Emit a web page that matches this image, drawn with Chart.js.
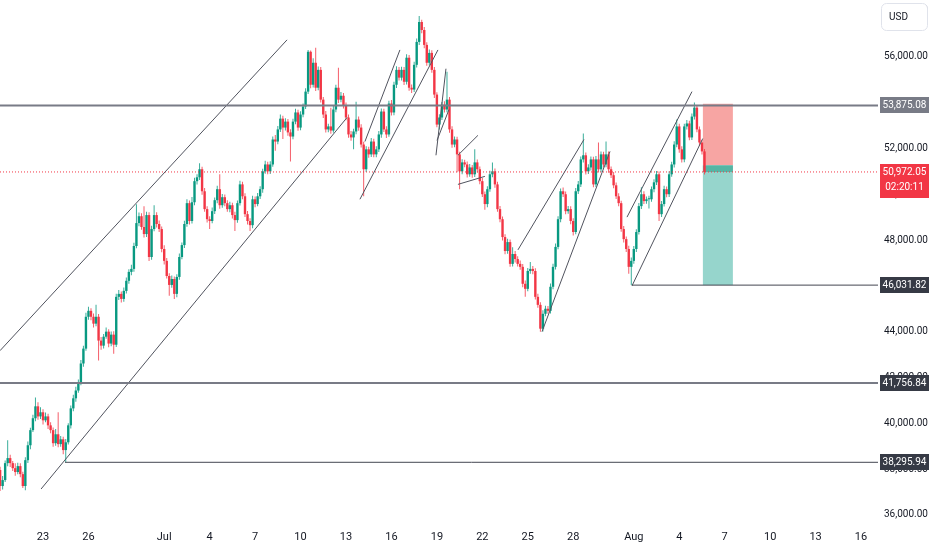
<!DOCTYPE html>
<html>
<head>
<meta charset="utf-8">
<script src="https://cdn.jsdelivr.net/npm/chart.js@4.4.1/dist/chart.umd.min.js"></script>
<style>
    html, body { margin: 0; padding: 0; background: #ffffff; }
    #wrap { width: 932px; height: 550px; }
</style>
</head>
<body>
<div id="wrap"><canvas id="chart" width="932" height="550"></canvas></div>
<script>
// 4h candles, x values are days counted from Jun 23 00:00
var firstCandleDay = -2 - 20 / 24;
var candleStep = 4 / 24;
var firstOpen = 37960;

var closes = [
    37260, 37520, 38260, 38480, 38260, 38040, 37870, 38130, 37780, 37260,
    38390, 39040, 39700, 40220, 40740, 40300, 40480, 40130, 40300, 39910,
    39700, 39130, 39520, 39090, 39300, 38830, 39170, 39910, 40650, 41090,
    41430, 41780, 42610, 43260, 44650, 44910, 44650, 44350, 44650, 43610,
    43390, 43780, 44000, 43480, 43870, 43430, 45520, 45650, 45430, 45780,
    46220, 46610, 46740, 47740, 48740, 49040, 48570, 48260, 49090, 47260,
    48480, 49090, 48700, 48480, 47610, 47090, 46430, 46040, 46300, 45650,
    46390, 47260, 47780, 48700, 49610, 48830, 49650, 50570, 50740, 51090,
    50130, 49350, 48910, 48830, 49260, 49740, 50220, 49520, 49870, 49610,
    49350, 49520, 49090, 48870, 49610, 50430, 49910, 49130, 48830, 48650,
    49780, 49570, 49910, 50220, 51000, 51300, 51000, 51300, 52390, 52300,
    52830, 53300, 52910, 53170, 52700, 52520, 53170, 53570, 52910, 53480,
    53830, 54480, 56220, 54780, 55740, 54650, 55430, 54130, 53480, 52830,
    52960, 52780, 53700, 54650, 54130, 54300, 53870, 53350, 52610, 52480,
    52740, 53260, 52910, 52170, 51090, 51960, 51740, 52300, 51740, 51960,
    52610, 53610, 52830, 52610, 53960, 53570, 54780, 55430, 55090, 55430,
    54910, 55960, 54650, 54570, 55650, 56650, 57520, 57170, 56520, 55740,
    56170, 55430, 54350, 53040, 53350, 53910, 53700, 54130, 52830, 52170,
    52390, 51740, 51000, 51390, 51300, 50870, 51170, 50870, 51390, 51090,
    50570, 50000, 49570, 50220, 50870, 51000, 50430, 49350, 48910, 48130,
    47520, 47910, 46960, 47390, 47170, 46960, 46830, 46090, 45870, 46650,
    46740, 46650, 45520, 45170, 44130, 44780, 45000, 44910, 45960, 46830,
    47700, 48910, 50130, 50000, 49260, 49350, 48830, 48350, 50130, 50430,
    51520, 51700, 51000, 51170, 51520, 50430, 51520, 51090, 51740, 51300,
    51740, 51090, 50830, 50390, 49910, 49610, 48480, 48040, 47610, 46830,
    47090, 47610, 48350, 49480, 50000, 49700, 49780, 49780, 50220, 50520,
    50870, 49130, 49570, 50220, 50000, 50870, 51300, 52170, 52960, 51960,
    51520, 52960, 53090, 52480, 53390, 53780, 52830, 52260, 51870, 50972.05
];

var highs = [
    38100, 37700, 38380, 39260, 38630, 38350, 38250, 38280, 38250, 37880,
    38520, 39200, 39810, 40370, 41130, 40920, 40700, 40610, 40470, 40420,
    40050, 39820, 39750, 40480, 39450, 39410, 39310, 40000, 40780, 41250,
    41600, 41910, 42760, 43380, 44830, 45090, 45020, 44790, 45170, 44770,
    43770, 43900, 44180, 44110, 44010, 44020, 45650, 45820, 45750, 45930,
    46370, 46730, 46920, 47880, 49560, 49200, 49170, 49480, 49240, 49210,
    48620, 49520, 49210, 48850, 48590, 47770, 47220, 46550, 46450, 46410,
    46510, 47410, 47890, 48840, 49780, 49730, 49880, 50720, 50870, 51350,
    51200, 50270, 49470, 49040, 49420, 49860, 50370, 50870, 50010, 49990,
    49740, 49670, 49630, 49230, 49730, 50590, 50550, 50040, 49270, 48950,
    49930, 49900, 50050, 50350, 51110, 51460, 51420, 51440, 52520, 52590,
    52980, 53480, 53430, 53320, 53290, 52840, 53300, 53730, 53690, 53620,
    53960, 54630, 56300, 56280, 55940, 56390, 55580, 55560, 54250, 53630,
    53080, 53780, 53850, 54780, 55520, 54460, 54420, 54010, 53480, 52760,
    52860, 54040, 53390, 53060, 52290, 52100, 52070, 52450, 52420, 52100,
    52760, 53740, 53730, 52970, 54080, 54110, 54910, 55590, 55550, 55570,
    55560, 56110, 56080, 54790, 55780, 56800, 57780, 57620, 57300, 56640,
    56320, 56290, 55560, 54450, 53490, 54030, 54060, 55350, 54250, 52970,
    52520, 52510, 51850, 51530, 51510, 51430, 51320, 51280, 51960, 51520,
    51210, 50710, 50120, 50350, 51020, 51390, 51120, 50540, 49490, 49030,
    48250, 48060, 48020, 47690, 47520, 47290, 47110, 46950, 46230, 46780,
    47040, 46870, 46770, 45660, 45280, 44930, 45130, 45120, 46100, 46960,
    47850, 49040, 50250, 50290, 50120, 49490, 49480, 48950, 50270, 50580,
    51650, 52650, 51820, 51310, 51650, 51640, 51670, 52260, 51870, 51860,
    52300, 51870, 51210, 50970, 50510, 50040, 49720, 48610, 48160, 47750,
    47240, 47740, 48470, 49620, 50300, 50130, 49900, 49930, 50340, 50650,
    51010, 50990, 49700, 50370, 50340, 51000, 51420, 52310, 53260, 53080,
    52090, 53080, 53240, 53210, 53530, 54000, 53900, 52960, 52370, 51970
];

var lows = [
    37040, 37110, 37440, 38120, 38090, 37920, 37710, 37770, 37640, 37170,
    37080, 38270, 38870, 39620, 40090, 40150, 40190, 39950, 40040, 39750,
    39570, 38970, 39020, 38950, 38970, 38650, 38295.94, 39070, 39770, 40530,
    40940, 41330, 41660, 42470, 43170, 44520, 44500, 44180, 44240, 42740,
    43210, 43260, 43690, 43320, 43360, 43040, 43330, 45380, 45270, 45310,
    45670, 46090, 46460, 46620, 47640, 48600, 48450, 48110, 48130, 47090,
    47140, 48380, 48550, 48350, 47470, 46930, 46320, 45570, 45920, 45430,
    45500, 46270, 47160, 47650, 48580, 48680, 48720, 49520, 50430, 50620,
    49980, 49240, 48770, 48480, 48730, 49140, 49610, 49370, 49410, 49470,
    49230, 49210, 48940, 48390, 48760, 49510, 49780, 49010, 48680, 48390,
    48520, 49430, 49470, 49790, 50070, 50890, 50870, 50880, 51200, 51900,
    52180, 52720, 52410, 52780, 52550, 51430, 52400, 53060, 52770, 52790,
    53360, 53720, 54380, 54630, 54660, 54510, 54540, 54010, 53330, 52700,
    52710, 52640, 52680, 53580, 53980, 54020, 53740, 53230, 52470, 52330,
    51960, 52620, 52770, 52040, 49910, 50970, 51590, 51630, 51610, 51620,
    51840, 52470, 52720, 52460, 52510, 53440, 53450, 54640, 54970, 54960,
    54770, 54790, 54520, 54420, 54460, 55530, 56520, 57030, 56370, 55610,
    55620, 55300, 54200, 52920, 52830, 53240, 53570, 53580, 52680, 52030,
    52050, 50960, 50220, 50870, 51180, 50730, 50760, 50720, 50750, 50950,
    50440, 49880, 49320, 49430, 50110, 50740, 50280, 49230, 48780, 47980,
    47380, 47400, 46830, 46850, 47020, 46840, 46700, 45940, 45520, 45760,
    46530, 46510, 45400, 45040, 44000, 44010, 44670, 44780, 44790, 45850,
    46710, 47600, 48780, 49880, 49130, 49150, 48690, 48200, 48250, 50010,
    50320, 51390, 50860, 50880, 51040, 50310, 50320, 50950, 50970, 51170,
    51180, 50940, 50710, 50260, 49790, 49470, 48360, 47890, 47480, 46530,
    46031.82, 46970, 47480, 48240, 49360, 49570, 49580, 49380, 49670, 50090,
    50400, 48830, 49010, 49460, 49870, 49880, 50760, 51170, 52050, 51810,
    51380, 51400, 52830, 52360, 52370, 53260, 52710, 52120, 51740, 50860
];

var tickDays = [0, 3, 8, 11, 14, 17, 20, 23, 26, 29, 32, 35, 39, 42, 45, 48, 51, 54];
var tickLabels = ["23", "26", "Jul", "4", "7", "10", "13", "16", "19", "22", "25", "28", "Aug", "4", "7", "10", "13", "16"];
var priceTicks = [36000, 38000, 40000, 42000, 44000, 46000, 48000, 50000, 52000, 54000, 56000, 58000];

// horizontal levels drawn on the chart, and the day each one starts at
var levels = [53875.08, 41756.84, 38295.94, 46031.82];
var levelStartDays = [-2.84, -2.84, 1.45, 38.88];

var lastPrice = 50972.05;
var countdown = "02:20:11";

// trend lines: [day1, price1, day2, price2]
var trendLines = [
    [-2.84, 43170, 16.11, 56740],
    [-0.13, 37130, 20.07, 53350],
    [21.25, 52300, 23.56, 56300],
    [20.92, 49780, 26.07, 56300],
    [25.94, 51700, 26.60, 55480],
    [26.01, 52350, 26.80, 53700],
    [27.39, 51700, 28.71, 52570],
    [27.39, 50430, 29.17, 50780],
    [31.35, 47570, 35.71, 52390],
    [32.94, 44000, 37.43, 51870],
    [38.55, 49000, 42.84, 54480],
    [38.88, 46000, 43.55, 52430]
];

// short position tool
var positionDays = [43.56, 45.54];
var positionEntry = 51260;
var positionStop = 53950;
var positionTarget = 46031.82;

var xMin = -2.84;
var xMax = 55.12;
var yMin = 35690;
var yMax = 58480;

var upColor = "#089981";
var downColor = "#F23645";
var fontFamily = "Roboto, 'Noto Sans', sans-serif";

var candleDays = closes.map(function (c, i) { return firstCandleDay + i * candleStep; });
var opens = closes.map(function (c, i) { return i === 0 ? firstOpen : closes[i - 1]; });

function candleColor(ctx) {
    var i = ctx.dataIndex;
    if (i === undefined) return upColor;
    return closes[i] >= opens[i] ? upColor : downColor;
}

function wickColor(ctx) {
    var i = ctx.dataIndex;
    if (i === undefined) return upColor;
    return closes[i] >= opens[i] ? "rgba(8,153,129,0.8)" : "rgba(242,54,69,0.8)";
}

function fmt(n) {
    return n.toLocaleString("en-US", { minimumFractionDigits: 2, maximumFractionDigits: 2 });
}

// no padding around the axes so the plot runs edge to edge
function noPadding(axis) {
    axis.paddingTop = 0;
    axis.paddingBottom = 0;
    axis.paddingLeft = 0;
    axis.paddingRight = 0;
}

var datasets = [];

datasets.push({
    type: "bar",
    order: 3,
    data: candleDays.map(function (d, i) { return { x: d, y: [lows[i], highs[i]] }; }),
    backgroundColor: wickColor,
    barThickness: 1,
    grouped: false,
    inflateAmount: 0,
    borderWidth: 0
});

datasets.push({
    type: "bar",
    order: 2,
    data: candleDays.map(function (d, i) { return { x: d, y: [opens[i], closes[i]] }; }),
    backgroundColor: candleColor,
    barThickness: 2.4,
    minBarLength: 1,
    grouped: false,
    inflateAmount: 0,
    borderWidth: 0
});

var levelColors = ["#787B86", "#787B86", "#434651", "#434651"];
var levelWidths = [2, 2, 1, 1];
levels.forEach(function (p, i) {
    datasets.push({
        type: "line",
        order: 0,
        data: [{ x: levelStartDays[i], y: p }, { x: xMax, y: p }],
        borderColor: levelColors[i],
        borderWidth: levelWidths[i],
        pointRadius: 0,
        fill: false
    });
});

trendLines.forEach(function (t) {
    datasets.push({
        type: "line",
        order: 0,
        data: [{ x: t[0], y: t[1] }, { x: t[2], y: t[3] }],
        borderColor: "#50535E",
        borderWidth: 1,
        pointRadius: 0,
        fill: false
    });
});

datasets.push({
    type: "line",
    order: 1,
    data: [{ x: xMin, y: lastPrice }, { x: xMax, y: lastPrice }],
    borderColor: downColor,
    borderWidth: 1,
    borderDash: [1, 2],
    pointRadius: 0,
    fill: false
});

// position box sits under the candles
var positionBox = {
    id: "positionBox",
    beforeDatasetsDraw: function (chart) {
        var ctx = chart.ctx;
        var x = chart.scales.x;
        var y = chart.scales.y;
        var x1 = x.getPixelForValue(positionDays[0]);
        var x2 = x.getPixelForValue(positionDays[1]);
        var yStop = y.getPixelForValue(positionStop);
        var yEntry = y.getPixelForValue(positionEntry);
        var yTarget = y.getPixelForValue(positionTarget);
        var yLast = y.getPixelForValue(lastPrice);
        ctx.save();
        ctx.fillStyle = "#F7A5A3";
        ctx.fillRect(x1, yStop, x2 - x1, yEntry - yStop);
        ctx.fillStyle = "#96D5CC";
        ctx.fillRect(x1, yEntry, x2 - x1, yTarget - yEntry);
        ctx.fillStyle = "#55B5A4";
        ctx.fillRect(x1, yEntry, x2 - x1, yLast - yEntry);
        ctx.restore();
    }
};

// price labels on the right scale
var priceLabels = {
    id: "priceLabels",
    afterDraw: function (chart) {
        var ctx = chart.ctx;
        var y = chart.scales.y;
        var left = chart.chartArea.right + 2;
        var w = 49;
        ctx.save();
        ctx.font = "10px " + fontFamily;
        ctx.textAlign = "center";
        ctx.textBaseline = "middle";

        var boxColors = ["#787B86", "#363A45", "#363A45", "#363A45"];
        levels.forEach(function (p, i) {
            var py = Math.round(y.getPixelForValue(p));
            ctx.fillStyle = boxColors[i];
            ctx.fillRect(left, py - 8, w, 16);
            ctx.fillStyle = "#ffffff";
            ctx.fillText(fmt(p), left + w / 2, py + 0.5);
        });

        var ly = Math.round(y.getPixelForValue(lastPrice));
        ctx.fillStyle = downColor;
        ctx.fillRect(left, ly - 8, w, 34);
        ctx.fillStyle = "#ffffff";
        ctx.fillText(fmt(lastPrice), left + w / 2, ly + 0.5);
        ctx.fillText(countdown, left + w / 2, ly + 15.5);

        ctx.fillStyle = "#ffffff";
        ctx.strokeStyle = "#E0E3EB";
        ctx.lineWidth = 1;
        ctx.beginPath();
        ctx.roundRect(881.5, 3.5, 46, 27, 5);
        ctx.fill();
        ctx.stroke();
        ctx.fillStyle = "#131722";
        ctx.textAlign = "left";
        ctx.fillText("USD", 889, 17);
        ctx.restore();
    }
};

Chart.defaults.font.family = fontFamily;
Chart.defaults.font.size = 11;
Chart.defaults.color = "#131722";

var lineChart = new Chart(document.getElementById("chart").getContext("2d"), {
    type: "bar",
    data: { datasets: datasets },
    options: {
        responsive: false,
        animation: false,
        layout: { padding: 0 },
        plugins: {
            legend: { display: false },
            tooltip: { enabled: false }
        },
        scales: {
            x: {
                type: "linear",
                min: xMin,
                max: xMax,
                offset: false,
                grid: { display: false, drawTicks: false },
                border: { display: false },
                afterBuildTicks: function (axis) {
                    axis.ticks = tickDays.map(function (d) { return { value: d }; });
                },
                afterFit: function (axis) {
                    axis.height = 28;
                    noPadding(axis);
                },
                ticks: {
                    autoSkip: false,
                    maxRotation: 0,
                    padding: 9,
                    color: "#131722",
                    callback: function (value, index) { return tickLabels[index]; }
                }
            },
            y: {
                type: "linear",
                position: "right",
                min: yMin,
                max: yMax,
                grid: { display: false, drawTicks: false },
                border: { display: false },
                afterBuildTicks: function (axis) {
                    axis.ticks = priceTicks.map(function (p) { return { value: p }; });
                },
                afterFit: function (axis) {
                    axis.width = 54;
                    noPadding(axis);
                },
                ticks: {
                    padding: 6,
                    color: "#131722",
                    font: { size: 10 },
                    callback: function (value) { return fmt(value); }
                }
            }
        }
    },
    plugins: [positionBox, priceLabels]
});
</script>
</body>
</html>
